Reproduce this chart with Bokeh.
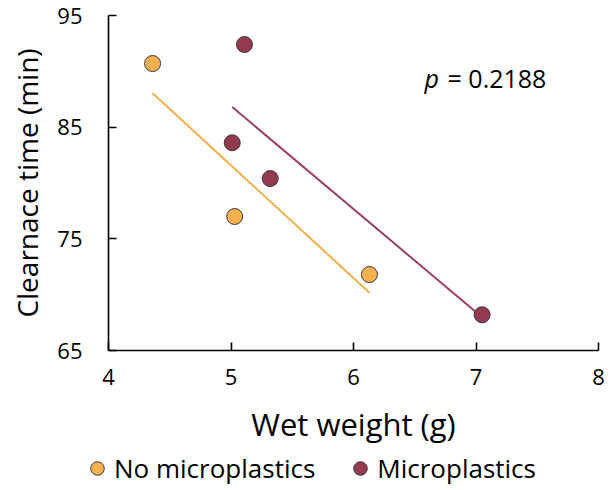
import numpy as np
from bokeh.plotting import figure
from bokeh.layouts import column
from bokeh.models import Range1d, FixedTicker, Legend, LegendItem, Label
from bokeh.embed import file_html
from bokeh.resources import INLINE

# Wet weight (g) and clearance time (min) for each group
no_mp_weight = [4.36, 5.03, 6.13]
no_mp_time = [90.7, 77.0, 71.8]
mp_weight = [5.11, 5.01, 5.32, 7.05]
mp_time = [92.4, 83.6, 80.4, 68.2]

x_ticks = [4, 5, 6, 7, 8]
y_ticks = [65, 75, 85, 95]
p_value_text = "= 0.2188"
group_names = ["No microplastics", "Microplastics"]

ORANGE = "#F9B04F"
ORANGE_LINE = "#F6AD4B"
MAROON = "#933A4F"
MAROON_LINE = "#9A4259"
EDGE = "#3a3a3a"
FONT = "Open Sans"


def fit_line(x, y):
    x = np.asarray(x, dtype=float)
    y = np.asarray(y, dtype=float)
    slope, intercept = np.polyfit(x, y, 1)
    xs = np.array([x.min(), x.max()])
    return xs, slope * xs + intercept


p = figure(width=616, height=450, output_backend="svg", toolbar_location=None,
           x_range=Range1d(4, 8), y_range=Range1d(65, 95),
           min_border_left=108, min_border_right=18, min_border_top=15,
           min_border_bottom=100)
p.frame_align = False
p.outline_line_color = None
p.grid.visible = False
p.background_fill_color = "white"
p.border_fill_color = "white"

for ax in (p.xaxis[0], p.yaxis[0]):
    ax.axis_line_color = "black"
    ax.axis_line_width = 1.6
    ax.major_tick_line_color = "black"
    ax.major_tick_line_width = 1.6
    ax.major_tick_in = 8
    ax.major_tick_out = 0
    ax.minor_tick_line_color = None
    ax.major_label_text_font = FONT
    ax.major_label_text_font_size = "22px"
    ax.major_label_text_color = "black"
    ax.axis_label_text_font = FONT
    ax.axis_label_text_font_style = "normal"
    ax.axis_label_text_color = "black"

p.xaxis.ticker = FixedTicker(ticks=x_ticks)
p.yaxis.ticker = FixedTicker(ticks=y_ticks)
p.xaxis.axis_label = "Wet weight (g)"
p.yaxis.axis_label = "Clearnace time (min)"
p.xaxis.axis_label_text_font_size = "31px"
p.yaxis.axis_label_text_font_size = "28px"
p.xaxis.major_label_standoff = 18
p.yaxis.major_label_standoff = 26
p.xaxis.axis_label_standoff = 15
p.yaxis.axis_label_standoff = 8

# regression lines
lx, ly = fit_line(no_mp_weight, no_mp_time)
p.line(lx, ly, line_color=ORANGE_LINE, line_width=2)
mx, my = fit_line(mp_weight, mp_time)
p.line(mx, my, line_color=MAROON_LINE, line_width=2)

p.scatter(no_mp_weight, no_mp_time, size=16, fill_color=ORANGE,
          line_color=EDGE, line_width=1)
p.scatter(mp_weight, mp_time, size=16, fill_color=MAROON,
          line_color=EDGE, line_width=1)

p.add_layout(Label(x=6.58, y=89.4, text="p", text_font=FONT,
                   text_font_style="italic", text_font_size="25px",
                   text_color="black", text_baseline="middle"))
p.add_layout(Label(x=6.58, y=89.4, x_offset=23, text=p_value_text,
                   text_font=FONT, text_font_size="25px",
                   text_color="black", text_baseline="middle"))

# legend strip underneath the plot (no axes, frame spans the full strip)
leg = figure(width=616, height=40, output_backend="svg", toolbar_location=None,
             x_range=Range1d(0, 1), y_range=Range1d(0, 1),
             x_axis_location=None, y_axis_location=None,
             min_border=0, min_border_left=0, min_border_right=0,
             min_border_top=0, min_border_bottom=0)
leg.frame_align = False
leg.outline_line_color = None
leg.grid.visible = False
# single off-range points, so each legend entry has a glyph to draw
r_no = leg.scatter([-5], [-5], fill_color=ORANGE, line_color=EDGE, line_width=1)
r_mp = leg.scatter([-5], [-5], fill_color=MAROON, line_color=EDGE, line_width=1)

legend = Legend(items=[LegendItem(label=group_names[0], renderers=[r_no]),
                       LegendItem(label=group_names[1], renderers=[r_mp])],
                orientation="horizontal", location=(80, 4),
                label_text_font=FONT, label_text_font_size="26px",
                label_text_color="black", spacing=28, glyph_width=34,
                glyph_height=34, label_standoff=-4, border_line_color=None,
                background_fill_alpha=0, margin=0, padding=2)
leg.add_layout(legend)

layout = column(p, leg, spacing=0)
open("out.html", "w").write(file_html(layout, INLINE))
